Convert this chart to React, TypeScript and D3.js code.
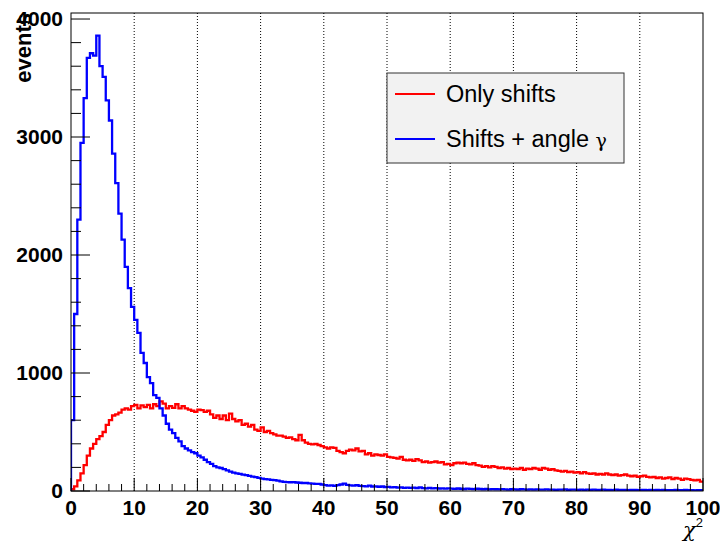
import React from "react";
import * as d3 from "d3";

// chi2 histograms, 200 bins of width 0.5 from 0 to 100
const binWidth = 0.5;

const onlyShifts = [
  15, 40, 90, 150, 220, 300, 360, 400, 440, 465,
  500, 560, 600, 640, 650, 665, 690, 700, 690, 720,
  730, 700, 725, 710, 730, 700, 735, 720, 760, 740,
  700, 720, 705, 735, 700, 720, 700, 690, 680, 670,
  690, 685, 670, 680, 650, 620, 640, 610, 640, 600,
  655, 610, 590, 600, 560, 570, 545, 560, 520, 510,
  540, 500, 510, 490, 480, 470, 470, 460, 450, 455,
  440, 430, 475, 430, 410, 400, 395, 400, 390, 380,
  370, 360, 370, 365, 340, 330, 320, 340, 350, 345,
  360, 335, 340, 310, 320, 300, 310, 305, 300, 310,
  290, 285, 280, 275, 290, 265, 260, 265, 255, 270,
  260, 245, 250, 240, 245, 250, 240, 245, 225, 230,
  220, 235, 240, 235, 240, 230, 225, 235, 220, 215,
  205, 210, 200, 210, 205, 195, 200, 190, 195, 185,
  190, 185, 195, 180, 190, 185, 195, 190, 180, 195,
  190, 180, 185, 175, 170, 165, 170, 160, 165, 155,
  160, 150, 160, 150, 145, 150, 140, 145, 140, 150,
  140, 135, 140, 130, 135, 140, 130, 125, 130, 120,
  125, 130, 120, 115, 120, 110, 115, 105, 110, 115,
  100, 110, 105, 95, 105, 100, 95, 90, 95, 80,
];

const shiftsAngle = [
  600, 1500, 2300, 2950, 3330, 3670, 3710, 3690, 3860, 3600,
  3510, 3310, 3140, 2860, 2610, 2350, 2130, 1900, 1720, 1560,
  1450, 1340, 1170, 1085, 965, 915, 813, 790, 700, 640,
  570, 520, 490, 450, 420, 380, 360, 345, 330, 320,
  300, 285, 265, 245, 230, 210, 200, 195, 185, 175,
  165, 155, 150, 145, 138, 135, 128, 122, 118, 112,
  105, 100, 98, 95, 93, 88, 82, 78, 76, 74,
  76, 72, 70, 68, 68, 64, 62, 60, 60, 55,
  50, 45, 48, 44, 50, 55, 62, 52, 48, 45,
  50, 44, 42, 40, 45, 38, 40, 36, 38, 34,
  35, 30, 33, 28, 30, 27, 29, 26, 28, 24,
  30, 25, 23, 26, 22, 24, 21, 23, 20, 22,
  20, 18, 21, 19, 17, 20, 18, 16, 19, 17,
  15, 17, 14, 16, 15, 13, 16, 14, 12, 15,
  14, 12, 15, 13, 11, 14, 12, 13, 11, 12,
  13, 11, 12, 10, 12, 11, 13, 10, 11, 12,
  10, 11, 9, 12, 10, 11, 9, 10, 11, 9,
  10, 8, 11, 9, 10, 9, 8, 10, 9, 8,
  9, 10, 8, 9, 7, 9, 8, 10, 8, 7,
  8, 9, 7, 8, 9, 7, 8, 6, 8, 7,
];

const xTicks = [0, 10, 20, 30, 40, 50, 60, 70, 80, 90, 100];
const yTicks = [0, 1000, 2000, 3000, 4000];
const legendLabels = ["Only shifts", "Shifts + angle "];
const colors = ["#ff0000", "#0000ff"];

const W = 720, H = 542;
const x0 = 71, x1 = 703, yTop = 13, yBot = 491;
const sans = "'Liberation Sans', Arial, Helvetica, sans-serif";
const serif = "'DejaVu Serif', 'Liberation Serif', serif";

const App = () => {
  const x = d3.scaleLinear().domain([0, 100]).range([x0, x1]);
  const y = d3.scaleLinear().domain([0, 4051]).range([yBot, yTop]);

  const xMinor = d3.range(0, 100.01, 2);
  const yMinor = d3.range(0, 4001, 200);

  const histPath = (vals: number[]) => {
    const pts: [number, number][] = [[0, 0]];
    vals.forEach((v, i) => pts.push([i * binWidth, v]));
    pts.push([vals.length * binWidth, vals[vals.length - 1]]);
    return d3.line<[number, number]>()
      .x(d => x(d[0]))
      .y(d => y(d[1]))
      .curve(d3.curveStepAfter)(pts) as string;
  };

  return (
    <svg width={W} height={H} style={{ position: "absolute", left: 0, top: 0, background: "#fff" }}>
      <defs>
        <clipPath id="plot">
          <rect x={x0} y={yTop} width={x1 - x0} height={yBot - yTop} />
        </clipPath>
      </defs>

      {/* dotted vertical grid */}
      {xTicks.slice(1, -1).map(t => (
        <line key={"g" + t} x1={x(t)} x2={x(t)} y1={yTop} y2={yBot}
          stroke="#000" strokeWidth={1} strokeDasharray="1 2" />
      ))}

      {/* histograms */}
      <g clipPath="url(#plot)" fill="none" strokeWidth={2.3}>
        <path d={histPath(onlyShifts)} stroke={colors[0]} />
        <path d={histPath(shiftsAngle)} stroke={colors[1]} />
      </g>

      {/* frame */}
      <rect x={x0} y={yTop} width={x1 - x0} height={yBot - yTop} fill="none" stroke="#000" strokeWidth={1} />

      {/* y ticks */}
      {yMinor.map(t => (
        <line key={"ym" + t} x1={x0} x2={x0 + (t % 1000 === 0 ? 19 : 10)} y1={y(t)} y2={y(t)} stroke="#000" />
      ))}
      {yTicks.map(t => (
        <text key={"yl" + t} x={63} y={y(t) + 7} textAnchor="end" fontFamily={sans}
          fontWeight="bold" fontSize={21}>{t}</text>
      ))}

      {/* x ticks */}
      {xMinor.map(t => (
        <line key={"xm" + t} x1={x(t)} x2={x(t)} y1={yBot} y2={yBot - (t % 10 === 0 ? 13 : 7)} stroke="#000" />
      ))}
      {xTicks.map(t => (
        <text key={"xl" + t} x={x(t)} y={515} textAnchor="middle" fontFamily={sans}
          fontWeight="bold" fontSize={21}>{t}</text>
      ))}

      {/* axis titles */}
      <text transform={`translate(31, ${yTop}) rotate(-90)`} textAnchor="end" fontFamily={sans}
        fontWeight="bold" fontSize={22}>events</text>
      <text x={x1} y={537} textAnchor="end" fontFamily={serif} fontStyle="italic" fontSize={21}>
        χ<tspan fontFamily={sans} fontStyle="normal" fontSize={13} dy={-10}>2</tspan>
      </text>

      {/* legend */}
      <g>
        <rect x={387} y={73} width={237} height={90} fill="#f2f2f2" stroke="#333" strokeWidth={1} />
        {legendLabels.map((lab, i) => (
          <g key={lab}>
            <line x1={395} x2={435} y1={94 + i * 45} y2={94 + i * 45} stroke={colors[i]} strokeWidth={2} />
            <text x={446} y={102 + i * 45} fontFamily={sans} fontSize={23.5} fill="#000">
              {lab}
              {i === 1 && <tspan fontFamily={serif} fontSize={19}>γ</tspan>}
            </text>
          </g>
        ))}
      </g>
    </svg>
  );
};

export default App;
